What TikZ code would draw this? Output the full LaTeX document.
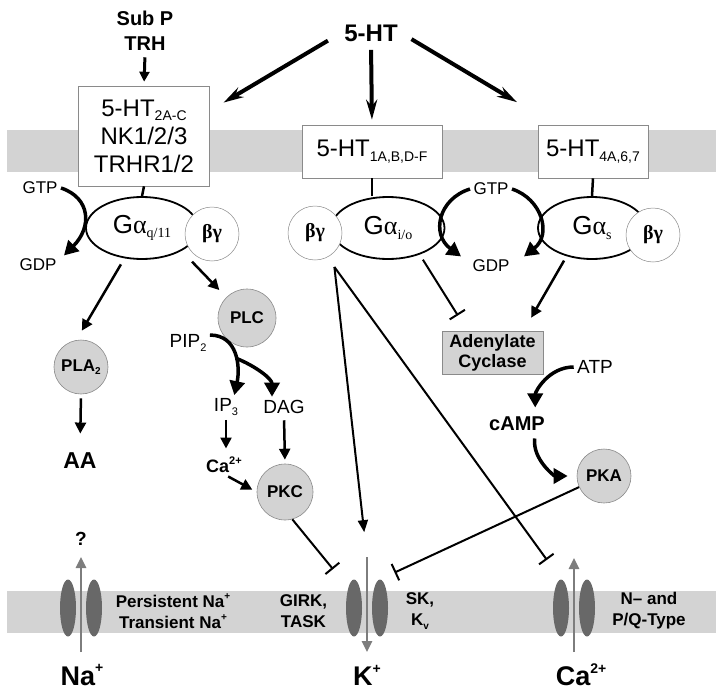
\documentclass[tikz,border=0pt]{standalone}
\usepackage{fontspec}
\setmainfont{Liberation Sans}
\newfontfamily\grk{Liberation Serif}
\usetikzlibrary{arrows.meta,shapes.geometric}

\definecolor{membrane}{HTML}{D3D3D3}
\definecolor{enzfill}{HTML}{D3D3D3}
\definecolor{poregray}{HTML}{686868}
\definecolor{rimgray}{HTML}{8A8A8A}
\definecolor{iongray}{HTML}{7D7D7D}

\newcommand{\sbx}[2]{\raisebox{-.35ex}{\fontsize{#1}{#1}\selectfont #2}}
\newcommand{\spx}[2]{\raisebox{.85ex}{\fontsize{#1}{#1}\selectfont #2}}

\tikzset{
  receptor/.style={draw=rimgray, line width=.6pt, fill=white, align=center, inner sep=0pt, font=\fontsize{24}{28}\selectfont},
  galpha/.style={ellipse, draw, line width=1.8pt, fill=white, inner sep=0pt, minimum height=62pt, font=\fontsize{26}{26}\selectfont},
  betagamma/.style={circle, draw=rimgray, line width=.5pt, fill=white, inner sep=0pt, minimum size=54pt, font=\grk\bfseries\fontsize{20}{20}\selectfont},
  enzyme/.style={circle, draw=rimgray, line width=.6pt, fill=enzfill, inner sep=0pt, font=\bfseries\fontsize{17}{17}\selectfont},
  acbox/.style={draw=rimgray, line width=.6pt, fill=enzfill, align=center, inner sep=0pt, minimum width=101pt, minimum height=43pt, font=\bfseries\fontsize{18}{20}\selectfont},
  pore/.style={ellipse, fill=poregray, inner sep=0pt, minimum width=16pt, minimum height=57pt},
  gtplab/.style={font=\fontsize{17}{17}\selectfont},
  msgr/.style={font=\fontsize{19}{19}\selectfont},
  boldmsgr/.style={font=\bfseries\fontsize{20}{20}\selectfont},
  chanlab/.style={align=center, font=\bfseries\fontsize{17}{21}\selectfont},
  ionlab/.style={font=\bfseries\fontsize{27}{27}\selectfont},
  agonist/.style={line width=4pt, -{Stealth[length=20pt,width=11pt]}},
  ligand/.style={line width=3pt, -{Triangle[length=10pt,width=10pt]}},
  stem/.style={line width=2.5pt},
  act/.style={line width=2.5pt, -{Triangle[length=11pt,width=11pt]}},
  cyc/.style={line width=3.5pt, -{Triangle[length=14pt,width=15pt]}},
  thinact/.style={line width=2pt, -{Triangle[length=12pt,width=10pt]}},
  inh/.style={line width=2pt, -{Bar[width=18pt]}},
  ionflow/.style={draw=iongray, line width=2.5pt, -{Triangle[length=11pt,width=10pt]}}
}

\begin{document}
\begin{tikzpicture}[x=1pt,y=-1pt]
  \useasboundingbox (0,0) rectangle (723,696);
  \fill[membrane] (7,130) rectangle (716,172);
  \fill[membrane] (7,591) rectangle (716,633);

  \node[font=\bfseries\fontsize{24}{24}\selectfont] (ht) at (371,33) {5-HT};
  \node[align=center, font=\bfseries\fontsize{20}{25}\selectfont] (subp) at (145,31) {Sub P\\TRH};

  \node[receptor, minimum width=131pt, minimum height=100pt] (r2) at (144,136) {5-HT\sbx{14}{2A-C}\\NK1/2/3\\TRHR1/2};
  \node[receptor, minimum width=140pt, minimum height=53pt] (r1) at (372,151.5) {5-HT\sbx{14}{1A,B,D-F}};
  \node[receptor, minimum width=110pt, minimum height=53pt] (r4) at (593,151.5) {5-HT\sbx{14}{4A,6,7}};

  \node[galpha, minimum width=112pt] (gq) at (142,228) {G{\grk α}\sbx{14}{\grk q/11}};
  \node[galpha, minimum width=113pt] (gi) at (388,228) {G{\grk α}\sbx{14}{\grk i/o}};
  \node[galpha, minimum width=108pt] (gs) at (592,228) {G{\grk α}\sbx{14}{\grk s}};
  \node[betagamma] (bgq) at (212,234) {βγ};
  \node[betagamma] (bgi) at (315,233) {βγ};
  \node[betagamma] (bgs) at (653,235) {βγ};

  \node[gtplab] (gtp1) at (40,188) {GTP};
  \node[gtplab] (gdp1) at (38,265) {GDP};
  \node[gtplab] (gtp2) at (491,189) {GTP};
  \node[gtplab] (gdp2) at (491,266) {GDP};

  \node[enzyme, minimum size=54pt] (pla) at (81,367) {PLA\sbx{10}{2}};
  \node[font=\bfseries\fontsize{23}{23}\selectfont] (aa) at (80,461) {AA};
  \node[enzyme, minimum size=58pt] (plc) at (247,318) {PLC};
  \node[msgr] (pip) at (188,343) {PIP\sbx{11}{2}};
  \node[msgr] (ip3) at (226,407) {IP\sbx{11}{3}};
  \node[msgr] (dag) at (284,407) {DAG};
  \node[font=\bfseries\fontsize{18}{18}\selectfont] (ca) at (224,465) {Ca\spx{11}{2+}};
  \node[enzyme, minimum size=56pt] (pkc) at (285,492) {PKC};

  \node[acbox] (ac) at (492.5,352.5) {Adenylate\\Cyclase};
  \node[msgr] (atp) at (595,367) {ATP};
  \node[boldmsgr] (camp) at (517,424) {cAMP};
  \node[enzyme, minimum size=54pt] (pka) at (604,476) {PKA};

  \node[pore] (na1) at (68,608) {};
  \node[pore] (na2) at (94,608) {};
  \node[pore] (k1) at (354,608) {};
  \node[pore] (k2) at (380,608) {};
  \node[pore] (ca1) at (561,608) {};
  \node[pore] (ca2) at (587,608) {};
  \coordinate (nab) at (81,652);
  \coordinate (nat) at (81,557);
  \coordinate (kt) at (367,557);
  \coordinate (kb) at (367,652);
  \coordinate (cab) at (574,652);
  \coordinate (cat) at (574,558);

  \node[font=\bfseries\fontsize{19}{19}\selectfont] (qm) at (81,539) {?};
  \node[chanlab] (nalist) at (173,611) {Persistent Na\spx{10}{+}\\Transient Na\spx{10}{+}};
  \node[chanlab] (girk) at (303.5,611) {GIRK,\\TASK};
  \node[chanlab] (skv) at (420,611) {SK,\\K\sbx{10}{v}};
  \node[chanlab] (nqtype) at (649,611) {N– and\\P/Q-Type};
  \node[ionlab] (nalab) at (82,675) {Na\spx{14}{+}};
  \node[ionlab] (klab) at (367,675) {K\spx{14}{+}};
  \node[ionlab] (calab) at (581,675) {Ca\spx{14}{2+}};

  \begin{scope}[agonist]
    \draw[shorten <=15pt, shorten >=16pt] (ht.west) to (r2.21);
    \draw[shorten <=5pt, shorten >=5pt] (ht.south) to (r1.north);
    \draw[shorten <=12pt, shorten >=44pt] (ht.east) to (r4.145);
  \end{scope}
  \draw[ligand, shorten <=3pt, shorten >=4pt] (subp.south) to (r2.north);

  \begin{scope}[stem]
    \draw (r2.south) to (gq.north);
    \draw (r1.south) to (r1.south |- gi.north);
    \draw (r4.south) to (gs.north);
  \end{scope}

  \begin{scope}[cyc]
    \draw (gtp1.east) .. controls +(30,10) and +(28,-28) .. ([xshift=4pt]gdp1.north east);
    \draw (gtp2.west) .. controls +(-32,10) and +(-30,-22) .. ([xshift=-8pt]gdp2.north west);
    \draw (gtp2.east) .. controls +(30,10) and +(28,-22) .. ([xshift=11pt]gdp2.north east);
    \draw (pip.20) .. controls +(28,0) and +(6,-28) .. (ip3.55) coordinate[pos=.55] (pipm);
    \draw (pipm) .. controls +(20,8) and +(0,-18) .. ([xshift=-12pt]dag.north);
    \draw[shorten >=6pt] (atp.west) .. controls +(-25,0) and +(0,-22) .. (camp.30);
    \draw[shorten <=4pt, shorten >=9pt] (camp.-30) .. controls +(-3,25) and +(-22,0) .. (pka.west);
  \end{scope}

  \begin{scope}[act]
    \draw[shorten <=7pt, shorten >=11pt] (gq.240) to (pla.100);
    \draw[shorten <=15pt, shorten >=10pt] (gq.-30) to (plc.135);
    \draw[shorten <=4pt, shorten >=16pt] (pla.south) to (aa.north);
    \draw[shorten <=1pt, shorten >=5pt] (ip3.south) to (ip3.south |- ca.north);
    \draw[shorten <=3pt, shorten >=4pt] (dag.south) to (pkc.north);
    \draw[shorten >=5pt] (ca.-70) to (pkc.180);
    \draw[shorten <=5pt, shorten >=15pt] (gs.-132) to (ac.35);
  \end{scope}
  \draw[thinact, shorten <=13.5pt, shorten >=25pt] (bgi.-49.5) to (kt);

  \begin{scope}[inh]
    \draw[shorten >=24pt] (pkc.-75) to (k1.106);
    \draw[shorten <=6pt, shorten >=18pt] (gi.-40) to (ac.139);
    \draw[shorten <=12pt, shorten >=24pt] (bgi.-63.6) to (ca1.north);
    \draw[shorten >=16pt] (pka.204) to (k2.north);
  \end{scope}

  \begin{scope}[ionflow]
    \draw (nab) to (nat);
    \draw (kt) to (kb);
    \draw (cab) to (cat);
  \end{scope}
\end{tikzpicture}
\end{document}
